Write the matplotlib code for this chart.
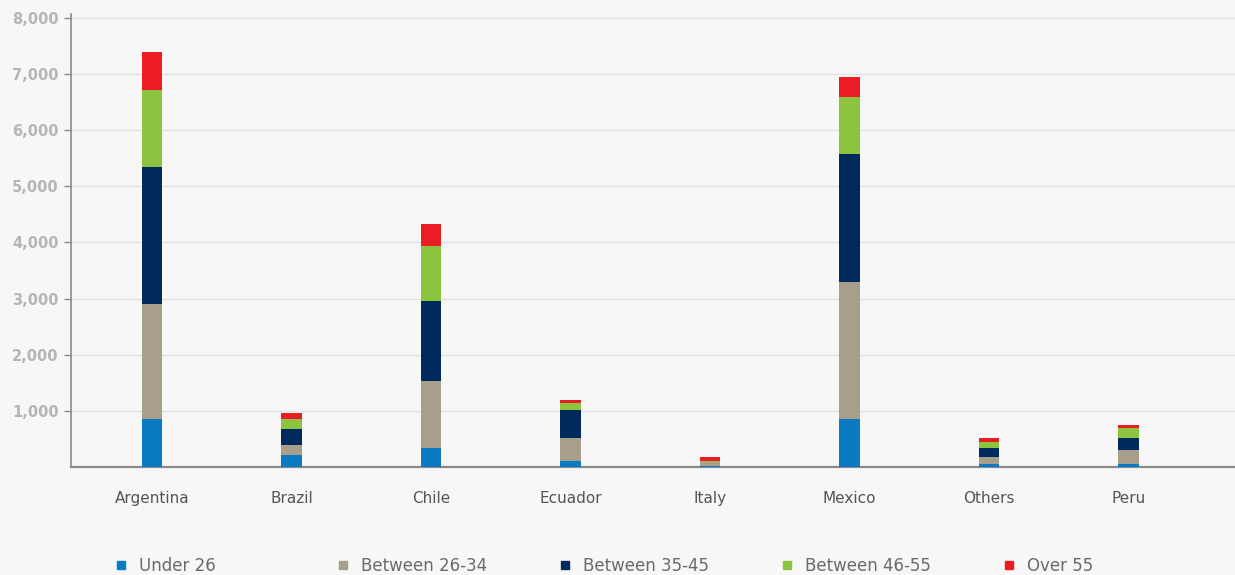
import matplotlib
matplotlib.use("Agg")
import matplotlib.pyplot as plt
import numpy as np
from matplotlib.lines import Line2D
from matplotlib.ticker import FuncFormatter

countries = ['Argentina', 'Brazil', 'Chile', 'Ecuador', 'Italy', 'Mexico', 'Others', 'Peru']
groups = ['Under 26', 'Between 26-34', 'Between 35-45', 'Between 46-55', 'Over 55']

under_26 = [860, 220, 340, 110, 10, 860, 55, 55]
between_26_34 = [2045, 180, 1200, 400, 75, 2445, 120, 240]
between_35_45 = [2445, 280, 1420, 505, 5, 2275, 170, 215]
between_46_55 = [1370, 180, 970, 120, 25, 1020, 105, 180]
over_55 = [680, 110, 400, 60, 65, 345, 60, 55]

series = [under_26, between_26_34, between_35_45, between_46_55, over_55]
colors = ['#0a7bc2', '#a89f8b', '#002a5c', '#8dc43f', '#ec1c24']

bg = '#f7f7f7'
fig = plt.figure(figsize=(12.35, 5.75), dpi=100, facecolor=bg)
ax = fig.add_axes([71/1235, 1 - 467/575, 1164/1235, 453/575], facecolor=bg)

x = np.arange(len(countries))
bottom = np.zeros(len(countries))
for vals, col in zip(series, colors):
    ax.bar(x, vals, width=0.145, bottom=bottom, color=col, zorder=3)
    bottom += np.array(vals)

ax.set_xlim(-0.581, 7.763)
ax.set_ylim(0, 8071)
ax.set_yticks(np.arange(1000, 8001, 1000))
ax.yaxis.set_major_formatter(FuncFormatter(lambda v, p: f'{int(v):,}'))
ax.grid(axis='y', color='#e2e2e2', linewidth=1, zorder=0)

ax.set_xticks(x)
ax.set_xticklabels(countries, fontsize=11, color='#555555')
ax.tick_params(axis='x', length=0, pad=17)
ax.tick_params(axis='y', length=5, width=1, color='#8a8a8a', labelcolor='#b5b5b5',
               labelsize=10.5, pad=4)
for lab in ax.get_yticklabels():
    lab.set_fontweight('bold')

for side in ['top', 'right']:
    ax.spines[side].set_visible(False)
ax.spines['left'].set_color('#8a8a8a')
ax.spines['left'].set_linewidth(1.2)
ax.spines['bottom'].set_color('#8a8a8a')
ax.spines['bottom'].set_linewidth(1.6)

# one legend box per age group, evenly spread along the bottom
for i, (name, col) in enumerate(zip(groups, colors)):
    h = Line2D([], [], marker='s', linestyle='none', color=col, markersize=6)
    leg = fig.legend([h], [name], loc='center left', frameon=False,
                     bbox_to_anchor=((106 + 222*i)/1235, 1 - 566/575),
                     handlelength=0.8, handletextpad=0.7, borderpad=0,
                     prop={'size': 12})
    for t in leg.get_texts():
        t.set_color('#6a6a6a')

plt.savefig('out.png', dpi=100, facecolor=bg)
